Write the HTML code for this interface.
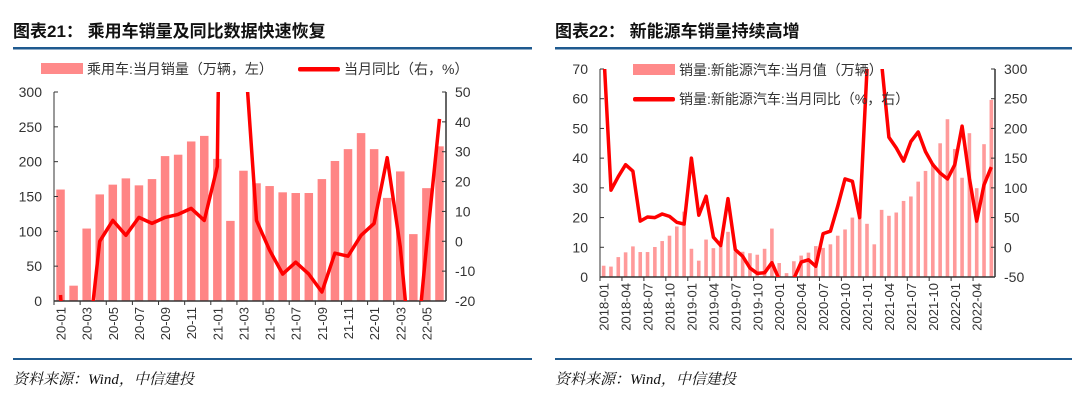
<!DOCTYPE html>
<html><head><meta charset="utf-8">
<style>
html,body{margin:0;padding:0;background:#fff;width:1080px;height:404px;overflow:hidden;font-family:"Liberation Sans","Noto Sans CJK SC",sans-serif;}
svg{display:block;overflow:hidden}
</style></head><body>
<svg id="s" width="1080" height="404" viewBox="0 0 1080 404">
<text x="13" y="37" font-size="17" font-weight="bold" fill="#111" font-family="Liberation Sans,Noto Sans CJK SC,sans-serif">图表21：  乘用车销量及同比数据快速恢复</text>
<text x="555" y="37" font-size="17" font-weight="bold" fill="#111" font-family="Liberation Sans,Noto Sans CJK SC,sans-serif">图表22：  新能源车销量持续高增</text>
<rect x="13" y="47" width="519" height="2.5" fill="#1f5a8f"/>
<rect x="555" y="47" width="517" height="2.5" fill="#1f5a8f"/>
<rect x="13" y="358" width="519" height="2" fill="#1f5a8f"/>
<rect x="555" y="358" width="517" height="2" fill="#1f5a8f"/>
<text x="13" y="384" font-size="15" font-style="italic" fill="#111" font-family="Liberation Serif,Noto Serif CJK SC,serif">资料来源：Wind，中信建投</text>
<text x="555" y="384" font-size="15" font-style="italic" fill="#111" font-family="Liberation Serif,Noto Serif CJK SC,serif">资料来源：Wind，中信建投</text>
<g id="c1"></g><g id="c2"></g>
</svg>
<script>
// Chart 1 data
const cats1 = ["20-01","20-02","20-03","20-04","20-05","20-06","20-07","20-08","20-09","20-10","20-11","20-12","21-01","21-02","21-03","21-04","21-05","21-06","21-07","21-08","21-09","21-10","21-11","21-12","22-01","22-02","22-03","22-04","22-05","22-06"];
const sales1 = [160,22,104,153,167,176,166,175,208,210,229,237,204,115,187,169,165,156,155,155,175,201,218,241,218,148,186,96,162,222];
const yoy1 = [-18,-79,-40,0,7,2,8,6,8,9,11,7,25,370,70,7,-3,-11,-7,-11,-17,-4,-5,2,6,28,-2,-48,-2,41];
const leftTicks1 = [0,50,100,150,200,250,300];
const rightTicks1 = [-20,-10,0,10,20,30,40,50];
// Chart 2 data
const cats2 = [];
for (let y=2018;y<=2022;y++) for (let m=1;m<=12;m++){ if(y===2022&&m>6)break; cats2.push(y+"-"+String(m).padStart(2,"0")); }
const sales2 = [3.8,3.5,6.7,8.3,10.3,8.4,8.4,10.1,12.1,13.9,17.0,22.0,9.5,5.5,12.6,9.7,10.4,15.2,8.6,8.5,8.0,7.5,9.5,16.3,4.7,1.3,5.3,7.2,8.2,10.4,9.8,11.0,13.9,16.0,20.0,24.8,17.9,11.0,22.6,20.6,21.7,25.6,27.1,32.1,35.7,38.3,45.0,53.1,43.1,33.4,48.4,29.9,44.7,59.6];
const yoy2 = [330,96,119,139,128,44,51,50,56,52,42,39,150,54,86,17,3,82,-4,-15,-35,-44,-43,-26,-54,-75,-53,-25,-21,-32,23,27,69,115,111,50,300,600,310,185,167,145,178,194,161,139,125,115,139,204,116,44,105,135];
const leftTicks2 = [0,10,20,30,40,50,60,70];
const rightTicks2 = [-50,0,50,100,150,200,250,300];

const NS="http://www.w3.org/2000/svg";
function mk(tag,attrs,parent,txt){const e=document.createElementNS(NS,tag);for(const k in attrs)e.setAttribute(k,attrs[k]);if(txt!==undefined)e.textContent=txt;parent.appendChild(e);return e;}

function draw(g,o){
  const n=o.cats.length, slot=(o.x1-o.x0)/n;
  const xc=i=>o.x0+slot*(i+0.5);
  const yl=v=>o.yb-(v-o.lmin)/(o.lmax-o.lmin)*(o.yb-o.yt);
  const yr=v=>o.yb-(v-o.rmin)/(o.rmax-o.rmin)*(o.yb-o.yt);
  const cid="clip"+o.id;
  const cp=mk("clipPath",{id:cid},g);mk("rect",{x:o.x0,y:o.yt,width:o.x1-o.x0,height:o.yb-o.yt},cp);
  o.sales.forEach((v,i)=>{
    const b=mk("rect",{x:xc(i)-o.bw/2,y:yl(v),width:o.bw,height:o.yb-yl(v),fill:o.barColor},g);
    
    
  });
  mk("line",{x1:o.x0,y1:o.yt,x2:o.x0,y2:o.yb,stroke:"#333","stroke-width":1},g);
  mk("line",{x1:o.x1,y1:o.yt,x2:o.x1,y2:o.yb,stroke:"#333","stroke-width":1.5},g);
  mk("line",{x1:o.x0,y1:o.yb,x2:o.x1,y2:o.yb,stroke:"#333","stroke-width":1.5},g);
  o.lt.forEach(v=>{
    mk("line",{x1:o.x0,y1:yl(v),x2:o.x0+4,y2:yl(v),stroke:"#333"},g);
    const t=mk("text",{x:o.x0-12,y:yl(v)+5,"font-size":14,fill:"#333","text-anchor":"end"},g,v);
    
    
  });
  o.rt.forEach(v=>{
    mk("line",{x1:o.x1-4,y1:yr(v),x2:o.x1,y2:yr(v),stroke:"#333"},g);
    const t=mk("text",{x:o.x1+9,y:yr(v)+5,"font-size":14,fill:"#333"},g,v);
    
    
  });
  o.cats.forEach((c,i)=>{
    if(i%o.step)return;
    const x=xc(i);
    mk("line",{x1:x-slot/2,y1:o.yb,x2:x-slot/2,y2:o.yb+4,stroke:"#333"},g);
    const t=mk("text",{x:0,y:0,"font-size":13,fill:"#333","text-anchor":"end",transform:`translate(${x+5},${o.yb+6}) rotate(-90)`},g,c);
    
    
  });
  const pts=o.yoy.map((v,i)=>xc(i).toFixed(1)+","+yr(v).toFixed(1)).join(" ");
  const pl=mk("polyline",{points:pts,fill:"none",stroke:"#ff0000","stroke-width":3.5,"stroke-linejoin":"round","clip-path":`url(#${cid})`},g);
  
  
}

const g1=document.getElementById("c1"), g2=document.getElementById("c2");
draw(g1,{id:1,cats:cats1,sales:sales1,yoy:yoy1,x0:54,x1:446,yt:92,yb:301,lmin:0,lmax:300,rmin:-20,rmax:50,lt:leftTicks1,rt:rightTicks1,bw:8.5,barColor:"#ff8585",step:2});
draw(g2,{id:2,cats:cats2,sales:sales2,yoy:yoy2,x0:600,x1:995,yt:69,yb:277,lmin:0,lmax:70,rmin:-50,rmax:300,lt:leftTicks2,rt:rightTicks2,bw:3.6,barColor:"#ff9a9a",step:3});

function legend(g,x,y,type,label,name){
  const sw = type==="bar" ? mk("rect",{x:x,y:y-6,width:42,height:11,fill:"#ff8a8a"},g) : mk("rect",{x:x,y:y-2,width:42,height:4.5,fill:"#ff0000",rx:2},g);
  
  
  const t=mk("text",{x:x+46,y:y+5,"font-size":14,fill:"#333"},g,label);
  
  
}
legend(g1,41,69,"bar","乘用车:当月销量（万辆，左）","legend-sales");
legend(g1,298,69,"line","当月同比（右，%）","legend-yoy");
legend(g2,633,70,"bar","销量:新能源汽车:当月值（万辆）","legend-nev-sales");
legend(g2,633,99,"line","销量:新能源汽车:当月同比（%，右）","legend-nev-yoy");
</script>
</body></html>
